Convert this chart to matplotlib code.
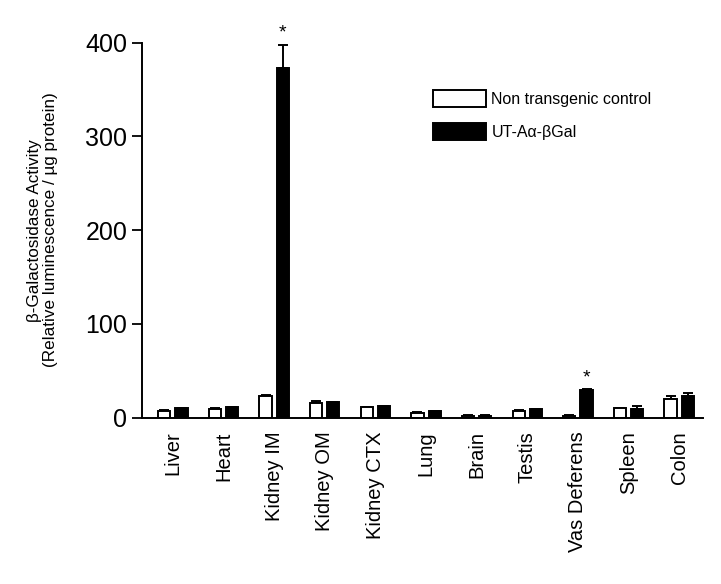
import numpy as np
import matplotlib
matplotlib.use("Agg")
import matplotlib.pyplot as plt

# data
tissues = ["Liver", "Heart", "Kidney IM", "Kidney OM", "Kidney CTX", "Lung",
           "Brain", "Testis", "Vas Deferens", "Spleen", "Colon"]
control = [7.5, 9.5, 23, 16, 11, 5, 2, 7.5, 2, 10, 20]
control_err = [0.5, 0.5, 1, 2, 0.5, 1, 0.3, 0.5, 0.3, 0.5, 2.5]
transgenic = [10, 11, 373, 16.5, 12, 6.5, 2, 9, 29, 9.6, 23.5]
transgenic_err = [0.5, 0.5, 25, 0.5, 0.5, 0.5, 0.3, 0.5, 1.5, 3, 2.5]
significant = ["Kidney IM", "Vas Deferens"]
y_ticks = [0, 100, 200, 300, 400]

plt.rcParams["font.family"] = ["Liberation Sans", "DejaVu Sans"]

fig = plt.figure(figsize=(7.21, 5.84), dpi=100)
ax = fig.add_axes([0.197, 0.285, 0.778, 0.642])

x = np.arange(len(tissues))
w = 0.24
off = 0.17

ax.bar(x - off, control, w, color="white", edgecolor="black", linewidth=1.4,
       label="Non transgenic control", zorder=2)
ax.bar(x + off, transgenic, w, color="black", edgecolor="black", linewidth=1.4,
       label="UT-A\u03b1-\u03b2Gal", zorder=2)

ax.errorbar(x - off, control, yerr=[np.zeros(len(x)), control_err], fmt="none",
            ecolor="black", elinewidth=1.4, capsize=3.5, capthick=1.4, zorder=1)
ax.errorbar(x + off, transgenic, yerr=[np.zeros(len(x)), transgenic_err], fmt="none",
            ecolor="black", elinewidth=1.4, capsize=3.5, capthick=1.4, zorder=1)

# significance markers
for name in significant:
    i = tissues.index(name)
    ax.annotate("*", (x[i] + off, transgenic[i] + transgenic_err[i]),
                xytext=(0, 2), textcoords="offset points",
                ha="center", va="bottom", fontsize=14)

ax.set_xlim(-0.61, 10.47)
ax.set_ylim(0, 400)
ax.set_yticks(y_ticks)
ax.set_xticks(x)
ax.set_xticklabels(tissues, rotation=90, fontsize=14.5)
ax.tick_params(axis="x", length=0, pad=10)
ax.tick_params(axis="y", length=7, width=1.3, labelsize=18, pad=3.5)

ax.set_ylabel("\u03b2-Galactosidase Activity\n(Relative luminescence / \u00b5g protein)",
              fontsize=12.3, labelpad=20, linespacing=1.05)

for s in ["top", "right"]:
    ax.spines[s].set_visible(False)
for s in ["left", "bottom"]:
    ax.spines[s].set_linewidth(1.4)

ax.legend(loc="upper left", bbox_to_anchor=(0.6005, 1 - 90 / 584),
          bbox_transform=fig.transFigure,
          frameon=False, fontsize=11.5, handlelength=3.3, handleheight=1.3,
          borderpad=0, borderaxespad=0, handletextpad=0.35, labelspacing=0.95)

fig.savefig("out.png", dpi=100)
plt.close(fig)
